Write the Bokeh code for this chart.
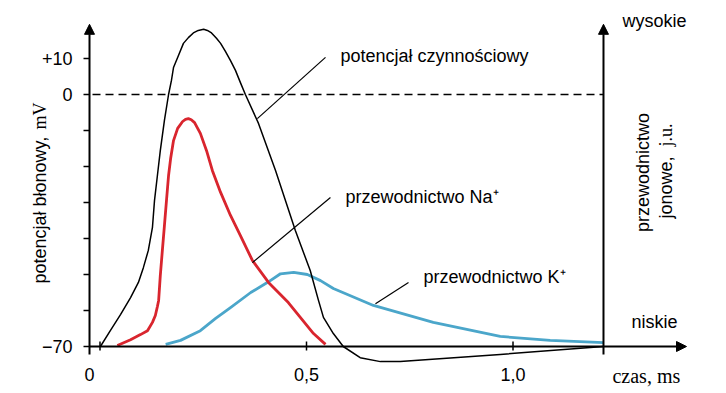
import numpy as np
from bokeh.plotting import figure
from bokeh.models import Range1d, Arrow, NormalHead
from bokeh.core.properties import value
from bokeh.embed import file_html
from bokeh.resources import INLINE

# ---------------- data ----------------
# action potential (time in ms, membrane potential in mV)
ap_t = [0.001, 0.025, 0.050, 0.074, 0.093, 0.105, 0.117, 0.127, 0.132, 0.139,
        0.146, 0.156, 0.166, 0.173, 0.178, 0.188, 0.202, 0.214, 0.226, 0.238,
        0.251, 0.260, 0.270, 0.282, 0.292, 0.304, 0.316, 0.328, 0.340, 0.352,
        0.384, 0.425, 0.473, 0.509, 0.529, 0.541, 0.565, 0.589, 0.630, 0.679,
        0.727, 0.969, 1.219]
ap_mv = [-70, -65.6, -61.1, -56.4, -52.2, -48.1, -43.3, -36.9, -29.4, -22.5,
         -15.6, -7.2, 0, 3.9, 7.5, 10.3, 14.2, 15.8, 17.1, 17.8,
         18.1, 17.8, 17.1, 15.6, 14.2, 11.9, 9.4, 6.7, 3.3, 0,
         -8.1, -21.1, -37.8, -48.9, -57.2, -61.9, -66.4, -70, -73.1, -74.2,
         -74.2, -72.2, -70]

# Na+ conductance (arbitrary units)
na_t = [0.042, 0.074, 0.098, 0.115, 0.127, 0.134, 0.139, 0.142, 0.146, 0.151,
        0.156, 0.161, 0.166, 0.171, 0.178, 0.188, 0.200, 0.207, 0.214, 0.221,
        0.229, 0.243, 0.258, 0.272, 0.292, 0.316, 0.340, 0.369, 0.408, 0.432,
        0.456, 0.485, 0.517, 0.546]
na_g = [0.3, 1.9, 3.3, 4.4, 6.7, 8.6, 11.1, 12.8, 19.7, 26.7,
        33.6, 40.6, 47.5, 52.2, 57.2, 60.6, 62.5, 63.1, 63.3, 63.0,
        62.2, 59.2, 54.4, 48.9, 42.8, 36.4, 30.8, 23.9, 17.8, 15.0,
        12.2, 8.1, 3.6, 0.6]

# K+ conductance (arbitrary units)
k_t = [0.159, 0.195, 0.243, 0.280, 0.316, 0.365, 0.407, 0.437, 0.469, 0.502,
       0.534, 0.565, 0.662, 0.807, 0.969, 1.090, 1.219]
k_g = [0.6, 1.7, 4.4, 7.8, 10.8, 15.0, 17.9, 20.2, 20.6, 20.0,
       18.3, 16.1, 11.4, 6.7, 2.8, 1.7, 1.1]

x_ticks = [0, 0.5, 1.0]
x_tick_labels = ["0", "0,5", "1,0"]
y_ticks = [10, 0, -10, -20, -30, -40, -50, -60, -70]
y_labeled = [10, 0, -70]
y_tick_labels = ["+10", "0", "\u221270"]

# ---------------- layout ----------------
W, H = 726, 393
PX_MS = 413.0          # pixels per ms
PX_MV = 3.6            # pixels per mV
X0 = -99.5 / PX_MS
X1 = X0 + W / PX_MS
Y1 = 94 / PX_MV
Y0 = Y1 - H / PX_MV

AX_L = -0.0254          # left axis position (ms)
AX_R = 1.2191           # right axis position (ms)
AX_XEND = 1.4201        # x arrow tip
AX_TOP = 19.5
AX_BOT = -72.2
BASE = -70

SANS = value("Liberation Sans")
SERIF = value("Liberation Serif")
FS = value("18px")

p = figure(width=W, height=H, x_range=Range1d(X0, X1), y_range=Range1d(Y0, Y1),
           min_border=0, x_axis_location=None, y_axis_location=None,
           toolbar_location=None, output_backend="svg", outline_line_color=None,
           background_fill_color="white", border_fill_color="white")
p.grid.visible = False
p.extra_y_ranges = {"g": Range1d(Y0 - BASE, Y1 - BASE)}

# dashed zero line
p.segment(x0=[AX_L + 3 / PX_MS], y0=[0], x1=[AX_R], y1=[0],
          line_color="black", line_width=1.6, line_dash="8 5")

# curves
p.line(k_t, k_g, y_range_name="g", line_color="#4ba6ca", line_width=2.8, line_join="round")
p.line(na_t, na_g, y_range_name="g", line_color="#d9252e", line_width=2.8, line_join="round")
p.line(ap_t, ap_mv, line_color="black", line_width=1.5, line_join="round")

# axes with arrow heads
def arrow(xs, ys, xe, ye):
    p.add_layout(Arrow(end=NormalHead(size=10, fill_color="black", line_color="black", line_width=1),
                       x_start=xs, y_start=ys, x_end=xe, y_end=ye,
                       line_color="black", line_width=2))

arrow(AX_L, AX_BOT, AX_L, AX_TOP)
arrow(AX_R, AX_BOT, AX_R, AX_TOP)
arrow(AX_L, BASE, AX_XEND, BASE)

# ticks
tl = 6 / PX_MS
p.segment(x0=[AX_L - tl] * len(y_ticks), y0=y_ticks, x1=[AX_L] * len(y_ticks), y1=y_ticks,
          line_color="black", line_width=1.5)
p.segment(x0=x_ticks, y0=[BASE + 5 / PX_MV] * len(x_ticks),
          x1=x_ticks, y1=[BASE - 4 / PX_MV] * len(x_ticks),
          line_color="black", line_width=1.5)

# tick labels
p.text(x=[AX_L - 17 / PX_MS] * len(y_labeled), y=y_labeled, text=y_tick_labels,
       text_font=SANS, text_font_size=FS, text_align="right", text_baseline="middle",
       text_color="black")
xl_pos = [AX_L if v == 0 else v for v in x_ticks]
p.text(x=xl_pos, y=[BASE - 27.5 / PX_MV] * len(x_ticks), text=x_tick_labels,
       text_font=SANS, text_font_size=FS, text_align="center", text_baseline="middle",
       text_color="black")

# axis titles
p.text(x=[-0.1453], y=[-52.5], text=["potencjał błonowy,"], angle=np.pi / 2,
       text_font=SANS, text_font_size=FS, text_align="left", text_baseline="middle")
p.text(x=[-0.1453], y=[-2.22], text=["mV"], angle=np.pi / 2,
       text_font=SERIF, text_font_size=FS, text_align="right", text_baseline="middle")

p.text(x=[1.3136], y=[-21.67], text=["przewodnictwo"], angle=np.pi / 2,
       text_font=SANS, text_font_size=FS, text_align="center", text_baseline="middle")
p.text(x=[1.3693], y=[-34.44], text=["jonowe,"], angle=np.pi / 2,
       text_font=SANS, text_font_size=FS, text_align="left", text_baseline="middle")
p.text(x=[1.3693], y=[-8.06], text=["j.u."], angle=np.pi / 2,
       text_font=SERIF, text_font_size=FS, text_align="right", text_baseline="middle")

p.text(x=[1.2651], y=[20.28], text=["wysokie"], text_font=SANS, text_font_size=FS,
       text_baseline="middle")
p.text(x=[1.287], y=[-63.33], text=["niskie"], text_font=SANS, text_font_size=FS,
       text_baseline="middle")
p.text(x=[1.2409], y=[-78.06], text=["czas, ms"], text_font=SERIF, text_font_size=value("20px"),
       text_baseline="middle")

# annotations with leader lines
p.segment(x0=[0.546, 0.558, 0.747], y0=[10.3, -28.6, -52.2],
          x1=[0.381, 0.369, 0.667], y1=[-6.7, -46.7, -58.1],
          line_color="black", line_width=1.2)
p.text(x=[0.5823, 0.5944, 0.7833], y=[10.83, -28.61, -50.83],
       text=["potencjał czynnościowy", "przewodnictwo Na\u207a", "przewodnictwo K\u207a"],
       text_font=SANS, text_font_size=FS, text_baseline="middle", text_color="black")

open("out.html", "w").write(file_html(p, INLINE))
